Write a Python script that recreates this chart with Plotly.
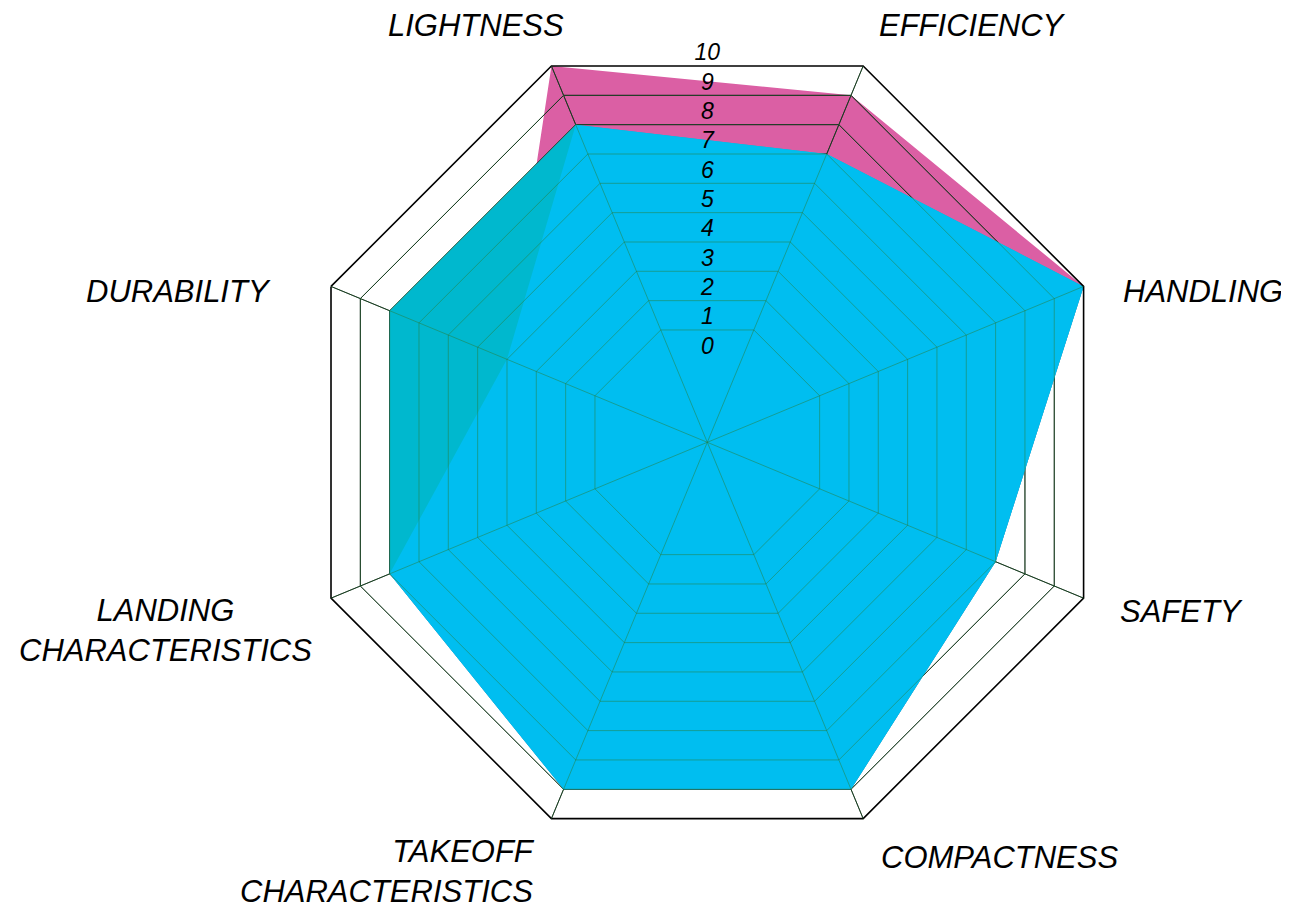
import numpy as np
import plotly.graph_objects as go

# ---------------- data ----------------
categories = ["LIGHTNESS", "EFFICIENCY", "HANDLING", "SAFETY", "COMPACTNESS",
              "TAKEOFF CHARACTERISTICS", "LANDING CHARACTERISTICS", "DURABILITY"]
category_labels = ["LIGHTNESS", "EFFICIENCY", "HANDLING", "SAFETY", "COMPACTNESS",
                   "TAKEOFF<br>CHARACTERISTICS", "LANDING<br>CHARACTERISTICS", "DURABILITY"]
series_pink = [10, 9, 10, 7, 9, 9, 8, 4]
series_cyan = [8, 7, 10, 7, 9, 9, 8, 8]
scale_ticks = [0, 1, 2, 3, 4, 5, 6, 7, 8, 9, 10]
scale_labels = ["0", "1", "2", "3", "4", "5", "6", "7", "8", "9", "10"]

# ---------------- style / layout ----------------
PINK = "#DB5FA4"
CYAN = "#00BEF0"
TEAL = "#00B8CE"
FONT = "Liberation Sans, Arial, Helvetica, sans-serif"
W, H = 1289, 910
PAGE_OFFSET = 8          # default body margin of the page
R_MIN, R_MAX = -2.83, 10
ROT = 112.5
CX, CY, RAD = 707.3, 442.3, 407.3   # polar centre / radius in page pixels


def px_x(X):
    return (X - PAGE_OFFSET) / W


def px_y(Y):
    return 1 - (Y - PAGE_OFFSET) / H


DOMAIN = dict(x=[px_x(CX - RAD), px_x(CX + RAD)], y=[px_y(CY + RAD), px_y(CY - RAD)])

# label placement (page pixels): x, centre y, x-anchor, alignment
label_place = [
    (475.5, 25, "center", "center"),
    (972, 25, "center", "center"),
    (1203, 291, "center", "center"),
    (1181, 611, "center", "center"),
    (999, 857, "center", "center"),
    (537, 871, "right", "right"),
    (165, 630, "center", "center"),
    (179, 291, "center", "center"),
]


def closed(v):
    v = list(v)
    return v + [v[0]]


theta_c = closed(categories)
overlap = np.minimum(series_pink, series_cyan)

fig = go.Figure()
# pink series (bottom layer)
fig.add_trace(go.Scatterpolar(r=closed(series_pink), theta=theta_c, mode="lines",
                              fill="toself", fillcolor=PINK, line=dict(width=0, color=PINK),
                              subplot="polar", hoverinfo="skip", name="A"))
# cyan series (part outside pink drawn teal, shared part cyan)
fig.add_trace(go.Scatterpolar(r=closed(series_cyan), theta=theta_c, mode="lines",
                              fill="toself", fillcolor=TEAL, line=dict(width=0, color=TEAL),
                              subplot="polar2", hoverinfo="skip", name="B"))
fig.add_trace(go.Scatterpolar(r=closed(overlap), theta=theta_c, mode="lines",
                              fill="toself", fillcolor=CYAN, line=dict(width=0, color=CYAN),
                              subplot="polar2", hoverinfo="skip", name="B"))
# helper so the overlay grid subplot is drawn
fig.add_trace(go.Scatterpolar(r=[R_MIN] * len(categories), theta=categories, mode="lines",
                              line=dict(width=0), opacity=0, subplot="polar3",
                              hoverinfo="skip"))
# radial scale labels
fig.add_trace(go.Scatterpolar(r=scale_ticks, theta=[0] * len(scale_ticks), mode="text",
                              text=scale_labels, textposition="top center",
                              textfont=dict(family=FONT, size=23, color="black", style="italic"),
                              cliponaxis=False, subplot="polar4", hoverinfo="skip"))

ang_common = dict(type="category", categoryarray=categories, rotation=ROT,
                  direction="clockwise")
rad_hidden = dict(range=[R_MIN, R_MAX], showgrid=False, showline=False,
                  showticklabels=False, ticks="")

annotations = []
for text, (X, Y, xa, al) in zip(category_labels, label_place):
    annotations.append(dict(text=text, x=px_x(X), y=px_y(Y), xref="paper", yref="paper",
                            xanchor=xa, yanchor="middle", align=al, showarrow=False,
                            font=dict(family=FONT, size=31, color="black", style="italic")))

fig.update_layout(
    width=W, height=H,
    margin=dict(l=0, r=0, t=0, b=0),
    paper_bgcolor="white",
    showlegend=False,
    annotations=annotations,
    polar=dict(
        domain=DOMAIN, bgcolor="white", gridshape="linear",
        radialaxis=rad_hidden,
        angularaxis=dict(**ang_common, showgrid=False, showline=False,
                         showticklabels=False, ticks=""),
    ),
    polar2=dict(
        domain=DOMAIN, bgcolor="rgba(0,0,0,0)", gridshape="linear",
        radialaxis=dict(range=[R_MIN, R_MAX], showgrid=True, gridcolor="black", gridwidth=1.3,
                        tickmode="array", tickvals=scale_ticks[1:-1], showline=False,
                        showticklabels=False, ticks=""),
        angularaxis=dict(**ang_common, showgrid=True, gridcolor="black", gridwidth=1.3,
                         showline=True, linecolor="black", linewidth=1.6,
                         showticklabels=False, ticks=""),
    ),
    polar3=dict(
        domain=DOMAIN, bgcolor="rgba(0,0,0,0)", gridshape="linear",
        radialaxis=dict(range=[R_MIN, R_MAX], showgrid=True, gridcolor="rgba(40,125,60,0.5)",
                        gridwidth=1, tickmode="array", tickvals=scale_ticks[1:-1],
                        showline=False, showticklabels=False, ticks=""),
        angularaxis=dict(**ang_common, showgrid=True, gridcolor="rgba(40,125,60,0.5)",
                         gridwidth=1, showline=False, showticklabels=False, ticks=""),
    ),
    polar4=dict(
        domain=DOMAIN, bgcolor="rgba(0,0,0,0)",
        radialaxis=dict(range=[R_MIN, R_MIN + (R_MAX - R_MIN) / np.cos(np.pi / 8)],
                        visible=False),
        angularaxis=dict(visible=False, rotation=90, direction="counterclockwise"),
    ),
)

fig.write_html("out.html")
